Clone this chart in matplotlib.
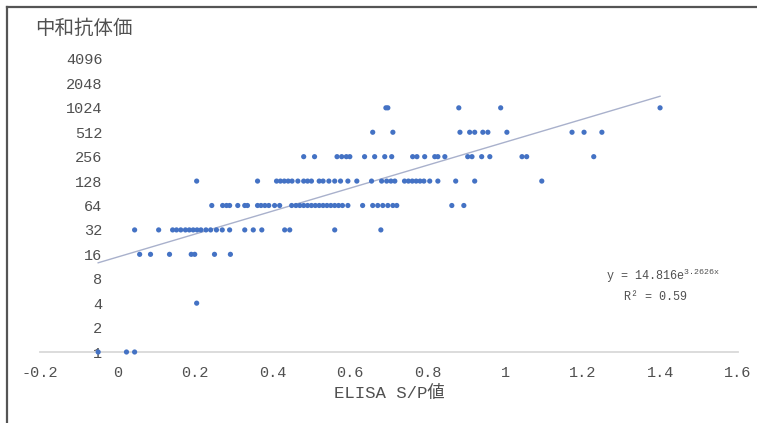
"""Scatter of neutralizing antibody titer against ELISA S/P value, with an exponential trendline."""

import numpy as np
import matplotlib
matplotlib.use("Agg")
import matplotlib.pyplot as plt
from matplotlib.lines import Line2D

plt.rcParams['font.family'] = ['Liberation Mono', 'Noto Sans CJK JP']
plt.rcParams['mathtext.fontset'] = 'custom'
plt.rcParams['mathtext.rm'] = 'Liberation Mono'
plt.rcParams['mathtext.it'] = 'Liberation Mono'

# ELISA S/P values, grouped by neutralizing titer
sp_titer_1 = [-0.05, 0.023, 0.044]
sp_titer_4 = [0.204]
sp_titer_16 = [0.057, 0.085, 0.134, 0.19, 0.199, 0.25, 0.291]
sp_titer_32 = [0.044, 0.106, 0.142, 0.152, 0.163, 0.175, 0.185, 0.195, 0.205,
               0.215, 0.228, 0.24, 0.255, 0.27, 0.289, 0.328, 0.35, 0.372,
               0.431, 0.444, 0.56, 0.679]
sp_titer_64 = [0.243, 0.271, 0.281, 0.289, 0.31, 0.328, 0.335, 0.361, 0.37,
               0.38, 0.39, 0.405, 0.418, 0.449, 0.46, 0.47, 0.48, 0.49, 0.5,
               0.51, 0.52, 0.53, 0.54, 0.55, 0.56, 0.57, 0.58, 0.594, 0.632,
               0.658, 0.671, 0.684, 0.697, 0.71, 0.72, 0.862, 0.893]
sp_titer_128 = [0.204, 0.361, 0.41, 0.42, 0.43, 0.44, 0.45, 0.465, 0.48, 0.49,
                0.5, 0.52, 0.53, 0.545, 0.56, 0.575, 0.594, 0.617, 0.655,
                0.681, 0.694, 0.705, 0.715, 0.74, 0.75, 0.76, 0.77, 0.78,
                0.79, 0.805, 0.826, 0.872, 0.921, 1.094]
sp_titer_256 = [0.48, 0.508, 0.566, 0.578, 0.59, 0.599, 0.637, 0.663, 0.689,
                0.707, 0.761, 0.772, 0.792, 0.818, 0.826, 0.844, 0.903, 0.914,
                0.939, 0.96, 1.043, 1.055, 1.228]
sp_titer_512 = [0.658, 0.71, 0.883, 0.908, 0.921, 0.942, 0.955, 1.004, 1.172,
                1.203, 1.249]
sp_titer_1024 = [0.692, 0.697, 0.88, 0.988, 1.399]

titers = [1, 4, 16, 32, 64, 128, 256, 512, 1024]
sp_groups = [sp_titer_1, sp_titer_4, sp_titer_16, sp_titer_32, sp_titer_64,
             sp_titer_128, sp_titer_256, sp_titer_512, sp_titer_1024]

# exponential trendline y = a * exp(b * x)
fit_a = 14.816
fit_b = 3.2626
r_squared = 0.59

y_ticks = [1, 2, 4, 8, 16, 32, 64, 128, 256, 512, 1024, 2048, 4096]
x_ticks = [-0.2, 0, 0.2, 0.4, 0.6, 0.8, 1, 1.2, 1.4, 1.6]
x_tick_labels = ['-0.2', '0', '0.2', '0.4', '0.6', '0.8', '1', '1.2', '1.4', '1.6']

x = np.concatenate([np.array(g, dtype=float) for g in sp_groups])
y = np.concatenate([np.full(len(g), t, dtype=float) for g, t in zip(sp_groups, titers)])

W, H = 757, 423
fig = plt.figure(figsize=(W / 100, H / 100), dpi=100)
ax = fig.add_axes([40 / W, 71 / H, 698 / W, 293 / H])

text_color = '#505050'

# trendline over the data range
xf = np.linspace(x.min(), x.max(), 200)
ax.plot(xf, fit_a * np.exp(fit_b * xf), color='#a9b1cc', lw=1.0, zorder=2)

ax.scatter(x, y, s=14, color='#4472C4', edgecolors='none', zorder=3, clip_on=False)

ax.set_yscale('log', base=2)
ax.set_ylim(1, 4096)
ax.set_xlim(-0.2, 1.6)
ax.set_yticks(y_ticks)
ax.set_yticklabels([str(v) for v in y_ticks])
ax.yaxis.set_minor_locator(matplotlib.ticker.NullLocator())
ax.set_xticks(x_ticks)
ax.set_xticklabels(x_tick_labels)

for side in ['top', 'right']:
    ax.spines[side].set_visible(False)
ax.spines['left'].set_position(('data', 0))
ax.spines['left'].set_visible(False)
ax.spines['bottom'].set_color('#d9d9d9')
ax.spines['bottom'].set_linewidth(1.3)

ax.tick_params(axis='y', length=0, pad=11, labelsize=11, labelcolor=text_color)
ax.tick_params(axis='x', length=0, pad=10, labelsize=11, labelcolor=text_color)

ax.set_xlabel('ELISA S/P値', fontsize=12.5, color=text_color, labelpad=4)

fig.text(35 / W, 1 - 29 / H, '中和抗体価', fontsize=14, color=text_color,
         ha='left', va='center')

# equation and R² of the trendline
fig.text(663 / W, 1 - 276 / H, 'y = %.3fe$^{%.4fx}$' % (fit_a, fit_b),
         fontsize=8.5, color=text_color, ha='center', va='center')
fig.text(655 / W, 1 - 297 / H, 'R² = %.2f' % r_squared,
         fontsize=8.5, color=text_color, ha='center', va='center')

# outer frame on the left and top
fig.add_artist(Line2D([7 / W, 7 / W], [0, 1 - 7 / H], transform=fig.transFigure,
                      color='#555555', lw=1.6))
fig.add_artist(Line2D([7 / W, 1], [1 - 7 / H, 1 - 7 / H], transform=fig.transFigure,
                      color='#555555', lw=1.6))

fig.savefig('out.png', dpi=100, facecolor='white')
